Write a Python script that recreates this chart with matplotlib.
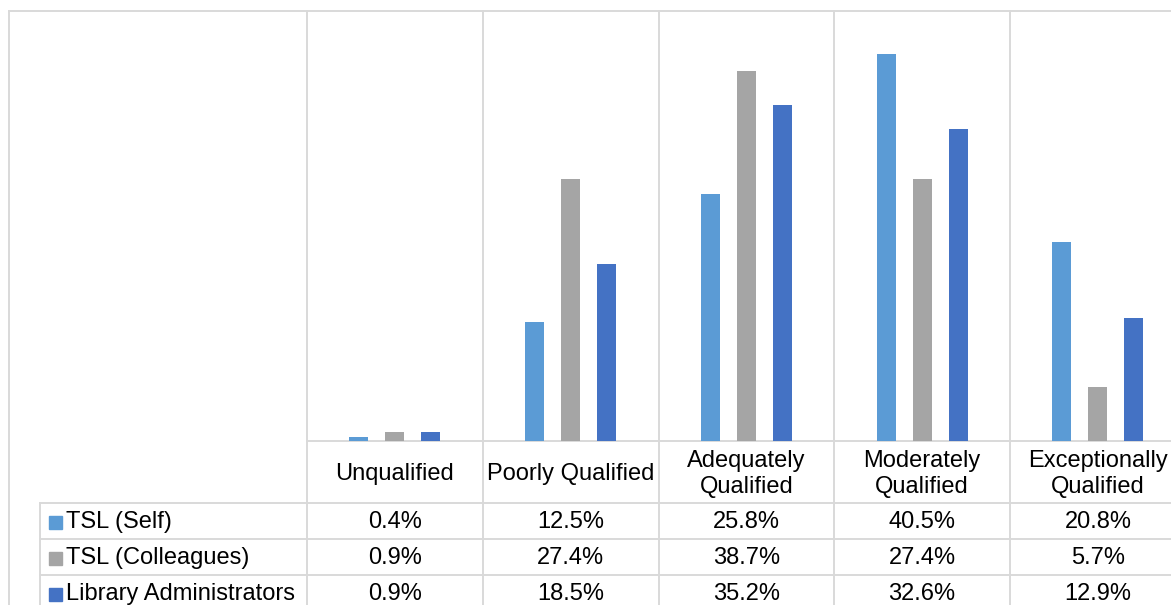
import matplotlib
matplotlib.use("Agg")
import matplotlib.pyplot as plt
from matplotlib.patches import Rectangle
from matplotlib.transforms import blended_transform_factory
import numpy as np

categories = ["Unqualified", "Poorly Qualified", "Adequately\nQualified",
              "Moderately\nQualified", "Exceptionally\nQualified"]
series_names = ["TSL (Self)", "TSL (Colleagues)", "Library Administrators"]
tsl_self = [0.4, 12.5, 25.8, 40.5, 20.8]
tsl_colleagues = [0.9, 27.4, 38.7, 27.4, 5.7]
library_admins = [0.9, 18.5, 35.2, 32.6, 12.9]
series_values = [tsl_self, tsl_colleagues, library_admins]
colors = ["#5B9BD5", "#A5A5A5", "#4472C4"]

W, H = 1171, 605
GRID = "#D9D9D9"
plt.rcParams["font.family"] = ["Liberation Sans", "DejaVu Sans"]
FS = 17

fig = plt.figure(figsize=(W / 100, H / 100), dpi=100)

def fx(px):
    return px / W

def fy(py):
    return 1 - py / H

# plot area: five category columns of equal width, last one runs past the edge
col_w = 175.75
left_px, top_px, base_px = 307, 11, 441
ax = fig.add_axes([fx(left_px), fy(base_px), fx(col_w * len(categories)),
                   fy(top_px) - fy(base_px)])
ax.set_xlim(-0.5, len(categories) - 0.5)
ax.set_ylim(0, 45)

x = np.arange(len(categories))
bar_w = 0.108
offset = 0.205
for i, (vals, c) in enumerate(zip(series_values, colors)):
    ax.bar(x + (i - 1) * offset, vals, width=bar_w, color=c, zorder=3)

for s in ["left", "right", "top"]:
    ax.spines[s].set_visible(False)
ax.spines["bottom"].set_color(GRID)
ax.spines["bottom"].set_linewidth(1.4)
ax.set_xticks([])
ax.set_yticks([])

tr = blended_transform_factory(ax.transData, fig.transFigure)

# column separators run from the top of the plot down through the table
for b in np.arange(len(categories) + 1) - 0.5:
    ax.plot([b, b], [fy(top_px), 0], transform=tr, color=GRID, lw=1.4,
            clip_on=False, zorder=1)

# chart border (left and top)
fig.add_artist(plt.Line2D([fx(8.5), fx(8.5)], [fy(11), 0], color=GRID, lw=1.4))
fig.add_artist(plt.Line2D([fx(8.5), 1], [fy(11), fy(11)], color=GRID, lw=1.4))

# data table rows
row_tops = [503, 539, 575]
row_h = 36
table_left = 40
for rt in row_tops:
    fig.add_artist(plt.Line2D([fx(table_left), 1], [fy(rt), fy(rt)],
                              color=GRID, lw=1.4))
fig.add_artist(plt.Line2D([fx(table_left), fx(table_left)], [fy(row_tops[0]), 0],
                          color=GRID, lw=1.4))

# header row with category names
header_mid = (base_px + row_tops[0]) / 2 + 2
for xi, cat in zip(x, categories):
    ax.text(xi, fy(header_mid), cat, transform=tr, ha="center", va="center",
            fontsize=FS, color="black", linespacing=1.2)

# series rows: legend key, name and values
for rt, name, vals, c in zip(row_tops, series_names, series_values, colors):
    mid = rt + row_h / 2 + 1
    fig.add_artist(Rectangle((fx(49), fy(mid + 6.5)), fx(12.5), fy(0) - fy(12.5),
                             transform=fig.transFigure, color=c))
    fig.text(fx(66), fy(mid), name, ha="left", va="center", fontsize=FS,
             color="black")
    for xi, v in zip(x, vals):
        ax.text(xi, fy(mid), f"{v:.1f}%", transform=tr, ha="center",
                va="center", fontsize=FS, color="black")

fig.savefig("out.png", dpi=100)
